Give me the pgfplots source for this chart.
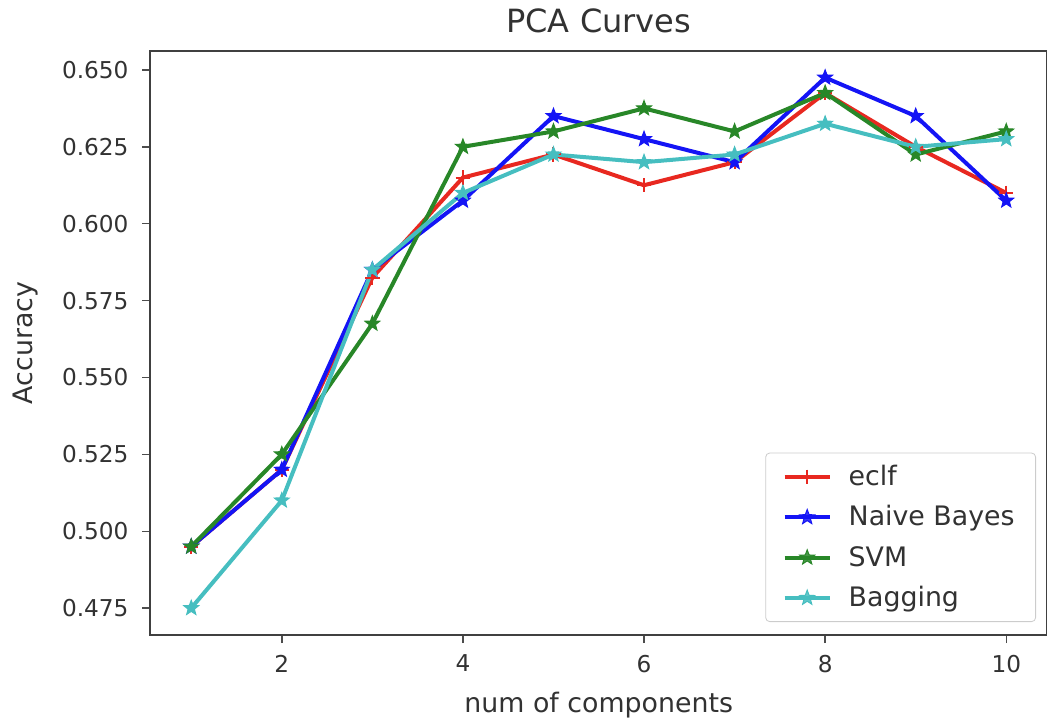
\documentclass[border=0pt]{standalone}
\usepackage{fontspec}
\setmainfont{DejaVu Sans}
\usepackage{pgfplots}
\pgfplotsset{compat=1.18}
\definecolor{cR}{RGB}{232,40,32}
\definecolor{cB}{RGB}{20,20,245}
\definecolor{cG}{RGB}{40,135,40}
\definecolor{cC}{RGB}{70,190,192}
\definecolor{txt}{RGB}{50,50,50}
\pgfdeclareplotmark{fstar}{%
  \pgfpathmoveto{\pgfpointpolar{90}{\pgfplotmarksize}}%
  \pgfpathlineto{\pgfpointpolar{126}{0.42\pgfplotmarksize}}%
  \pgfpathlineto{\pgfpointpolar{162}{\pgfplotmarksize}}%
  \pgfpathlineto{\pgfpointpolar{198}{0.42\pgfplotmarksize}}%
  \pgfpathlineto{\pgfpointpolar{234}{\pgfplotmarksize}}%
  \pgfpathlineto{\pgfpointpolar{270}{0.42\pgfplotmarksize}}%
  \pgfpathlineto{\pgfpointpolar{306}{\pgfplotmarksize}}%
  \pgfpathlineto{\pgfpointpolar{342}{0.42\pgfplotmarksize}}%
  \pgfpathlineto{\pgfpointpolar{18}{\pgfplotmarksize}}%
  \pgfpathlineto{\pgfpointpolar{54}{0.42\pgfplotmarksize}}%
  \pgfpathclose
  \pgfusepathqfillstroke
}
\begin{document}
\begin{tikzpicture}
\useasboundingbox (-75.25pt,-42.5pt) rectangle (448.25pt,317.5pt);
\begin{axis}[
  scale only axis,
  width=448.25pt, height=292.15pt,
  xmin=0.55, xmax=10.45,
  ymin=0.46625, ymax=0.65625,
  xtick={2,4,6,8,10},
  ytick={0.475,0.5,0.525,0.55,0.575,0.6,0.625,0.65},
  scaled y ticks=false,
  /pgf/number format/assume math mode=true,
  tick label style={font=\fontsize{11.6}{14}\selectfont, text=txt},
  yticklabel style={xshift=-3.5pt, /pgf/number format/.cd, fixed, fixed zerofill, precision=3},
  xticklabel style={yshift=-2.5pt},
  label style={font=\fontsize{13.4}{16}\selectfont, text=txt},
  xtick pos=left, ytick pos=left,
  tick align=outside,
  major tick length=4pt,
  every tick/.style={black!70, line width=0.7pt},
  axis line style={black!75, line width=1pt},
  title={PCA Curves},
  title style={font=\fontsize{16}{19}\selectfont, text=txt, at={(0.5,1)}, anchor=base, yshift=2.9pt},
  xlabel={num of components},
  xlabel style={at={(axis description cs:0.5,0)}, anchor=base, yshift=-38.5pt},
  ylabel={Accuracy},
  ylabel style={at={(axis description cs:-0.1317,0.5)}, anchor=base},
  legend style={at={(1,0)}, anchor=south east, xshift=-5.5pt, yshift=6.5pt,
    font=\fontsize{13.4}{16}\selectfont, text=txt, draw=black!20, rounded corners=2pt,
    fill=white, fill opacity=0.85, text opacity=1, row sep=4.6pt, inner xsep=8.5pt, inner ysep=4pt,
    nodes={inner xsep=2pt},
    /tikz/every odd column/.append style={column sep=6.5pt}},
  legend cell align=left,
  legend image code/.code={\draw[mark repeat=2,mark phase=2,#1] plot coordinates {(0pt,0pt) (11.25pt,0pt) (22.5pt,0pt)};},
]
\addplot[cR, line width=2pt, mark=+, mark size=3.6pt, mark options={solid, line width=1pt}] coordinates {
(1,0.495) (2,0.520) (3,0.5825) (4,0.615) (5,0.6225) (6,0.6125) (7,0.620) (8,0.6425) (9,0.625) (10,0.610)};
\addlegendentry{eclf}
\addplot[cB, line width=2pt, mark=fstar, mark size=3.9pt, mark options={solid, line width=0.5pt}] coordinates {
(1,0.495) (2,0.520) (3,0.585) (4,0.6075) (5,0.635) (6,0.6275) (7,0.620) (8,0.6475) (9,0.635) (10,0.6075)};
\addlegendentry{Naive Bayes}
\addplot[cG, line width=2pt, mark=fstar, mark size=3.9pt, mark options={solid, line width=0.5pt}] coordinates {
(1,0.495) (2,0.525) (3,0.5675) (4,0.625) (5,0.630) (6,0.6375) (7,0.630) (8,0.6425) (9,0.6225) (10,0.630)};
\addlegendentry{SVM}
\addplot[cC, line width=2pt, mark=fstar, mark size=3.9pt, mark options={solid, line width=0.5pt}] coordinates {
(1,0.475) (2,0.510) (3,0.585) (4,0.610) (5,0.6225) (6,0.620) (7,0.6225) (8,0.6325) (9,0.625) (10,0.6275)};
\addlegendentry{Bagging}
\end{axis}
\end{tikzpicture}
\end{document}
